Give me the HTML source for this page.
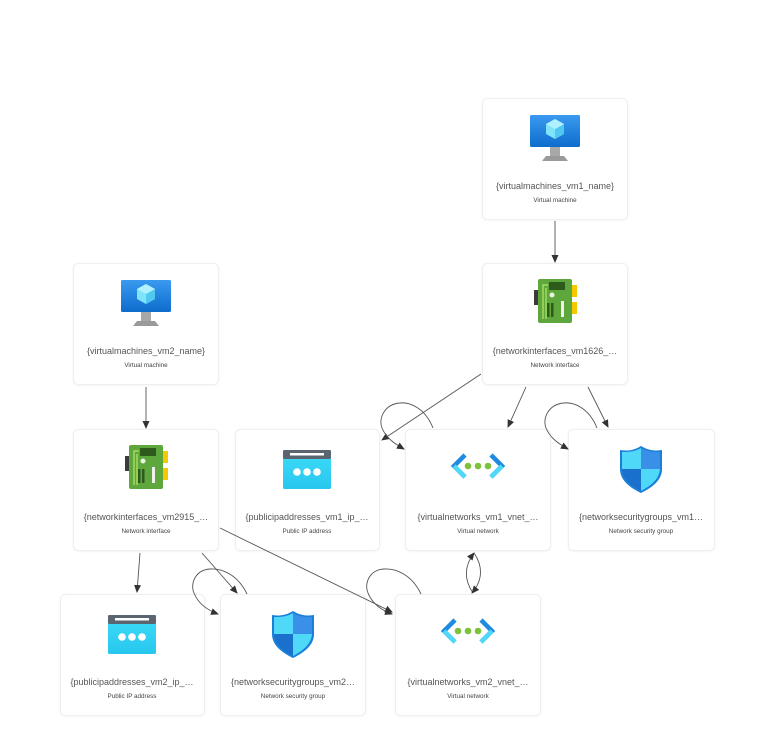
<!DOCTYPE html>
<html><head><meta charset="utf-8"><style>
html,body{margin:0;padding:0;background:#fff;}
svg{display:block;font-family:"Liberation Sans",sans-serif;}
.n{fill:#fff;stroke:#efefef;stroke-width:1;}
.t{font-size:9px;fill:#555;text-anchor:middle;}
.s{font-size:6.3px;fill:#444;text-anchor:middle;}
.e{fill:none;stroke:#555;stroke-width:0.9;}
</style></head><body>
<svg width="783" height="737" viewBox="0 0 783 737">
<defs>
<filter id="sh" x="-10%" y="-10%" width="120%" height="120%"><feDropShadow dx="0" dy="0.5" stdDeviation="1" flood-color="#000" flood-opacity="0.06"/></filter>
<marker id="a" markerWidth="8" markerHeight="8" refX="7" refY="4" orient="auto" markerUnits="userSpaceOnUse"><path d="M0,0.5 L8,4 L0,7.5z" fill="#333"/></marker>
<linearGradient id="gvm" x1="0" y1="0" x2="0" y2="1"><stop offset="0" stop-color="#3a9af0"/><stop offset="1" stop-color="#0e6ccc"/></linearGradient>
<linearGradient id="gp" x1="0" y1="0" x2="0" y2="1"><stop offset="0" stop-color="#3fdcf8"/><stop offset="1" stop-color="#27c7ee"/></linearGradient>
<g id="vm">
<rect x="-25" y="17" width="50" height="32" rx="1.5" fill="url(#gvm)"/>
<polygon points="0,21 9,26 9,36 0,41 -9,36 -9,26" fill="#7fe4fb"/>
<polygon points="0,31 9,26 9,36 0,41" fill="#50c8f0"/>
<polygon points="0,21 9,26 0,31 -9,26" fill="#b0f0ff"/>
<rect x="-5" y="49" width="10" height="9" fill="#a8a8a8"/>
<path d="M-13,63 L-9,58 L9,58 L13,63z" fill="#9a9a9a"/>
</g>
<g id="nic">
<rect x="-21" y="27" width="5" height="15" fill="#3b3b3b"/>
<rect x="16" y="22" width="6" height="12" fill="#f5c800"/>
<rect x="16" y="39" width="6" height="12" fill="#f5c800"/>
<rect x="-17" y="16" width="34" height="44" rx="2" fill="#5ea73c"/>
<rect x="-6" y="19" width="16" height="8" fill="#2e5a1c"/>
<path d="M-12,56 V22 H-7 M-9,56 V25" stroke="#c8f070" stroke-width="1" fill="none"/>
<circle cx="-3" cy="32" r="2.5" fill="#e8f5e0"/>
<rect x="-8" y="40" width="2.5" height="14" fill="#2e5a1c"/>
<rect x="-4" y="40" width="2.5" height="14" fill="#2e5a1c"/>
<rect x="6" y="38" width="3" height="16" fill="#f0f0f0"/>
</g>
<g id="pip">
<rect x="-24" y="21" width="48" height="39" rx="1.5" fill="url(#gp)"/>
<rect x="-24" y="21" width="48" height="9" rx="1.5" fill="#5a6570"/>
<rect x="-17" y="24" width="34" height="2.5" fill="#fff"/>
<circle cx="-10" cy="43" r="3.8" fill="#fff"/><circle cx="0" cy="43" r="3.8" fill="#fff"/><circle cx="10" cy="43" r="3.8" fill="#fff"/>
</g>
<g id="vnet">
<path d="M-13,26 L-24,37 L-13,48" stroke="#1e8ae0" stroke-width="4.5" fill="none"/>
<path d="M-24,37 L-13,48" stroke="#50d8f8" stroke-width="4.5" fill="none"/>
<path d="M13,26 L24,37 L13,48" stroke="#1e8ae0" stroke-width="4.5" fill="none"/>
<path d="M24,37 L13,48" stroke="#50d8f8" stroke-width="4.5" fill="none"/>
<circle cx="-10" cy="37" r="3.3" fill="#7cc23a"/><circle cx="0" cy="37" r="3.3" fill="#7cc23a"/><circle cx="10" cy="37" r="3.3" fill="#7cc23a"/>
</g>
<g id="nsg">
<path d="M0,17 C-8,22 -15,22 -21,21 V40 C-21,52 -10,59 0,64 C10,59 21,52 21,40 V21 C15,22 8,22 0,17z" fill="#1a7fd8"/>
<path d="M0,19 C-7,23 -13,23 -19,23 V40 H0z" fill="#50d8f8"/>
<path d="M0,19 C7,23 13,23 19,23 V40 H0z" fill="#3a90e8"/>
<path d="M0,40 H19 C18,51 9,57 0,62z" fill="#50d8f8"/>
<path d="M0,40 H-19 C-18,51 -9,57 0,62z" fill="#1a70cc"/>
</g>
</defs>

<!-- nodes -->
<g filter="url(#sh)">
<rect class="n" x="482.5" y="98.5" width="145" height="121" rx="5"/>
<rect class="n" x="482.5" y="263.5" width="145" height="121" rx="5"/>
<rect class="n" x="73.5" y="263.5" width="145" height="121" rx="5"/>
<rect class="n" x="73.5" y="429.5" width="145" height="121" rx="5"/>
<rect class="n" x="235.5" y="429.5" width="144" height="121" rx="5"/>
<rect class="n" x="405.5" y="429.5" width="145" height="121" rx="5"/>
<rect class="n" x="568.5" y="429.5" width="146" height="121" rx="5"/>
<rect class="n" x="60.5" y="594.5" width="144" height="121" rx="5"/>
<rect class="n" x="220.5" y="594.5" width="145" height="121" rx="5"/>
<rect class="n" x="395.5" y="594.5" width="145" height="121" rx="5"/>
</g>

<!-- edges -->
<path class="e" d="M555,221 L555,262" marker-end="url(#a)"/>
<path class="e" d="M146,387 L146,428" marker-end="url(#a)"/>
<path class="e" d="M481,374 L382,440" marker-end="url(#a)"/>
<path class="e" d="M526,387 L508,427" marker-end="url(#a)"/>
<path class="e" d="M588,387 L608,427" marker-end="url(#a)"/>
<path class="e" d="M433,428 C425,408 410,402 400,403 C385,404 378,418 382,428 C386,438 395,444 404,449" marker-end="url(#a)"/>
<path class="e" d="M597,428 C589,408 574,402 564,403 C549,404 542,418 546,428 C550,438 559,444 568,449" marker-end="url(#a)"/>
<path class="e" d="M140,553 L137,592" marker-end="url(#a)"/>
<path class="e" d="M202,553 L237,593" marker-end="url(#a)"/>
<path class="e" d="M247,594 C238,575 222,568 210,569 C195,570 190,584 194,593 C198,603 207,610 218,614" marker-end="url(#a)"/>
<path class="e" d="M220,528 L392,612" marker-end="url(#a)"/>
<path class="e" d="M421,594 C412,575 396,568 384,569 C369,570 364,584 368,593 C372,603 381,610 392,614" marker-end="url(#a)"/>
<path class="e" d="M473,593 C464,580 464,566 474,553" marker-end="url(#a)"/>
<path class="e" d="M474,553 C483,566 483,580 472,593" marker-end="url(#a)"/>

<use href="#vm" x="555" y="98"/>
<text class="t" x="555" y="189">{virtualmachines_vm1_name}</text>
<text class="s" x="555" y="202">Virtual machine</text>
<use href="#nic" x="555" y="263"/>
<text class="t" x="555" y="354">{networkinterfaces_vm1626_…</text>
<text class="s" x="555" y="367">Network interface</text>
<use href="#vm" x="146" y="263"/>
<text class="t" x="146" y="354">{virtualmachines_vm2_name}</text>
<text class="s" x="146" y="367">Virtual machine</text>
<use href="#nic" x="146" y="429"/>
<text class="t" x="146" y="520">{networkinterfaces_vm2915_…</text>
<text class="s" x="146" y="533">Network interface</text>
<use href="#pip" x="307" y="429"/>
<text class="t" x="307" y="520">{publicipaddresses_vm1_ip_…</text>
<text class="s" x="307" y="533">Public IP address</text>
<use href="#vnet" x="478" y="429"/>
<text class="t" x="478" y="520">{virtualnetworks_vm1_vnet_…</text>
<text class="s" x="478" y="533">Virtual network</text>
<use href="#nsg" x="641" y="429"/>
<text class="t" x="641" y="520">{networksecuritygroups_vm1…</text>
<text class="s" x="641" y="533">Network security group</text>
<use href="#pip" x="132" y="594"/>
<text class="t" x="132" y="685">{publicipaddresses_vm2_ip_…</text>
<text class="s" x="132" y="698">Public IP address</text>
<use href="#nsg" x="293" y="594"/>
<text class="t" x="293" y="685">{networksecuritygroups_vm2…</text>
<text class="s" x="293" y="698">Network security group</text>
<use href="#vnet" x="468" y="594"/>
<text class="t" x="468" y="685">{virtualnetworks_vm2_vnet_…</text>
<text class="s" x="468" y="698">Virtual network</text>
</svg>
</body></html>
